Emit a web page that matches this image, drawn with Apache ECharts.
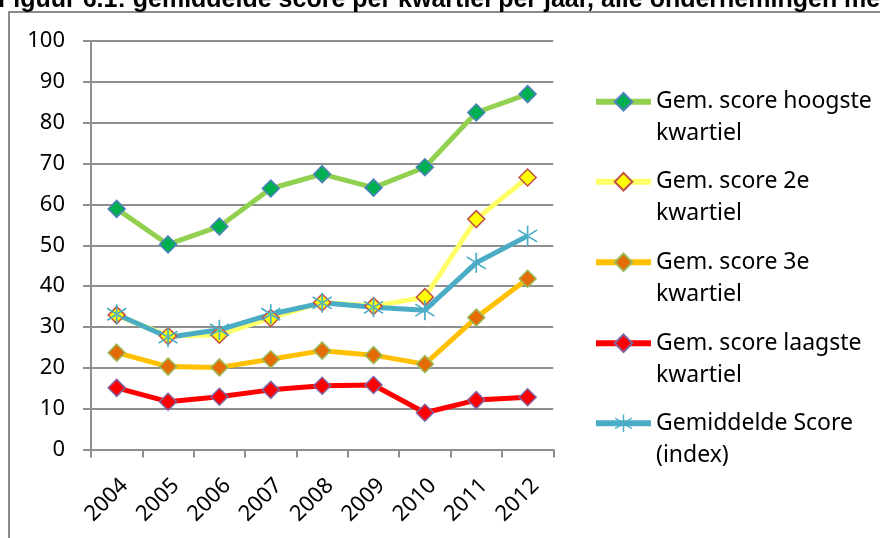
<!DOCTYPE html>
<html>
<head>
<meta charset="utf-8">
<script src="https://cdn.jsdelivr.net/npm/echarts@6/dist/echarts.min.js"></script>
<style>html,body{margin:0;padding:0;background:#fff}#c{width:880px;height:538px}</style>
</head>
<body>
<div id="c"></div>
<script>
const years = ['2004','2005','2006','2007','2008','2009','2010','2011','2012'];
const hoogste = [58.9, 50.2, 54.6, 63.9, 67.4, 64.1, 69.1, 82.5, 87.0];
const tweede = [32.9, 27.8, 28.1, 32.2, 36.0, 35.1, 37.3, 56.4, 66.6];
const derde = [23.7, 20.3, 20.1, 22.1, 24.2, 23.1, 20.9, 32.3, 41.8];
const laagste = [15.1, 11.7, 12.9, 14.6, 15.6, 15.8, 9.0, 12.1, 12.8];
const gemiddelde = [33.1, 27.5, 29.3, 33.1, 35.9, 34.8, 34.1, 45.7, 52.3];
const yTicks = [0, 10, 20, 30, 40, 50, 60, 70, 80, 90, 100];

const names = ['Gem. score hoogste kwartiel', 'Gem. score 2e kwartiel', 'Gem. score 3e kwartiel', 'Gem. score laagste kwartiel', 'Gemiddelde Score (index)'];
const wrapped = {
  'Gem. score hoogste kwartiel': '\nGem. score hoogste\nkwartiel',
  'Gem. score 2e kwartiel': '\nGem. score 2e\nkwartiel',
  'Gem. score 3e kwartiel': '\nGem. score 3e\nkwartiel',
  'Gem. score laagste kwartiel': '\nGem. score laagste\nkwartiel',
  'Gemiddelde Score (index)': '\nGemiddelde Score\n(index)'
};
const FONT = '"Noto Sans", "Open Sans", sans-serif';
const GRID = '#8f8f8f';
const asterisk = 'path://M9.2,0L10.8,0L10.8,20L9.2,20Z M1.44,3.33L19.44,15.33L18.56,16.67L0.56,4.67Z M1.44,16.67L19.44,4.67L18.56,3.33L0.56,15.33Z';

function mk(name, data, line, fill, border, symbol, size) {
  return {
    name, type: 'line', data,
    symbol, symbolSize: size,
    lineStyle: { color: line, width: 5 },
    itemStyle: { color: fill, borderColor: border, borderWidth: border ? 1.5 : 0 },
    emphasis: { disabled: true },
    animation: false
  };
}

const legendTops = [53.7, 133.7, 214.3, 295.3, 375.3];

const chart = echarts.init(document.getElementById('c'), null, { renderer: 'canvas' });
chart.setOption({
  backgroundColor: '#fff',
  animation: false,
  graphic: [
    { type: 'rect', shape: { x: 9, y: 12, width: 1000, height: 1000 }, style: { fill: 'none', stroke: '#8a8a8a', lineWidth: 2 }, silent: true },
    { type: 'text', x: -2, y: 0, style: { text: 'Figuur 6.1: gemiddelde score per kwartiel per jaar, alle ondernemingen met', font: 'bold 25px "Liberation Sans", Arial, sans-serif', fill: '#000', verticalAlign: 'middle' }, silent: true }
  ],
  grid: { left: 91, right: 326.7, top: 41, bottom: 88.5 },
  xAxis: {
    type: 'category', data: years, boundaryGap: true,
    axisLine: { lineStyle: { color: GRID, width: 2 } },
    axisTick: { show: true, length: 8, lineStyle: { color: GRID, width: 2 } },
    axisLabel: { rotate: 45, margin: 25, fontSize: 22, fontFamily: FONT, color: '#000', interval: 0, verticalAlign: 'top' },
    splitLine: { show: false }
  },
  yAxis: {
    type: 'value', min: yTicks[0], max: yTicks[yTicks.length - 1], interval: 10,
    axisLine: { show: true, lineStyle: { color: GRID, width: 2 } },
    axisTick: { show: true, length: 8, lineStyle: { color: GRID, width: 2 } },
    axisLabel: { margin: 26, fontSize: 22, fontFamily: FONT, color: '#000' },
    splitLine: { show: true, lineStyle: { color: GRID, width: 2 } }
  },
  legend: names.map((n, i) => ({
    data: [n], left: 593, top: legendTops[i], padding: 0,
    itemWidth: 55, itemHeight: 22, selectedMode: false,
    lineStyle: { width: 6 },
    formatter: (nm) => wrapped[nm],
    textStyle: { fontSize: 23, lineHeight: 32, fontFamily: FONT, color: '#000' }
  })),
  series: [
    mk(names[0], hoogste, '#92D050', '#00B050', '#4F81BD', 'diamond', 17),
    mk(names[1], tweede, '#FFFF66', '#FFFF00', '#C0504D', 'diamond', 17),
    mk(names[2], derde, '#FFC000', '#E36C09', '#9BBB59', 'diamond', 17),
    mk(names[3], laagste, '#FF0000', '#FF0000', '#8064A2', 'diamond', 17),
    mk(names[4], gemiddelde, '#4BACC6', '#4BACC6', null, asterisk, 20)
  ]
});
</script>
</body>
</html>
